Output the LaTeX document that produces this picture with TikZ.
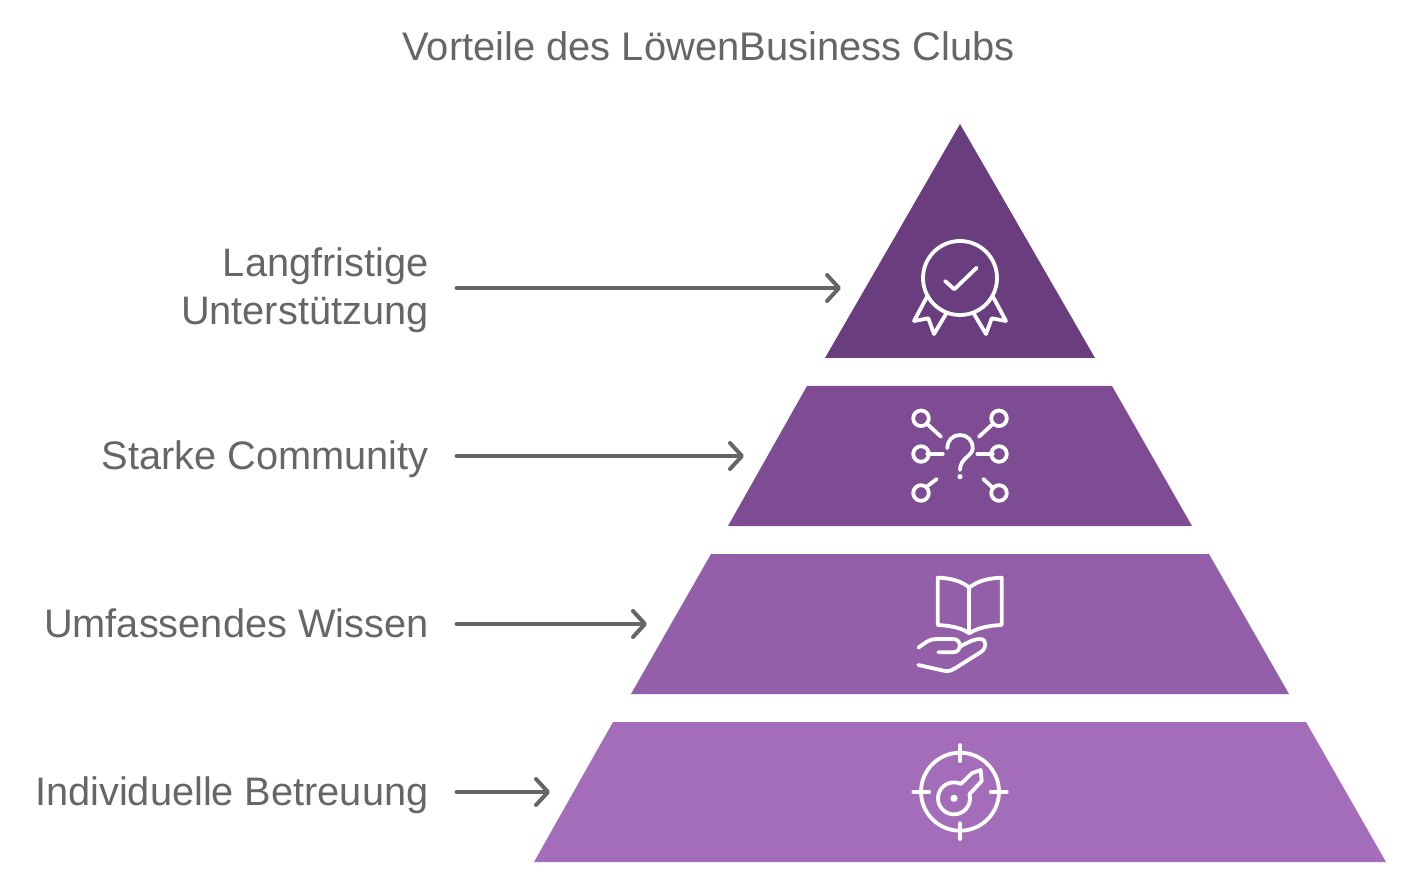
\documentclass[tikz,border=0pt]{standalone}
\usepackage{fontspec}
\setmainfont{Liberation Sans}
\usetikzlibrary{arrows.meta}
\definecolor{txt}{HTML}{666666}
\definecolor{la}{HTML}{6A3D7F}
\definecolor{lb}{HTML}{7E4C92}
\definecolor{lc}{HTML}{925FA8}
\definecolor{ld}{HTML}{A36DBA}
\tikzset{
  lab/.style={anchor=base east,inner sep=0pt,outer sep=0pt,text=txt,align=right,font=\fontsize{39.75}{47.6}\selectfont},
  ttl/.style={anchor=base,inner sep=0pt,outer sep=0pt,text=txt,font=\fontsize{39.9}{48}\selectfont},
  conn/.style={draw=txt,line width=4pt,line cap=round,shorten <=28pt,-{Straight Barb[length=12pt,width=26pt,round,line width=4pt]}},
  ico/.style={draw=white,line width=3.8pt,line cap=round,line join=round,fill=none},
  dotw/.style={fill=white,draw=none}
}
\begin{document}
\begin{tikzpicture}[x=1pt,y=-1pt]
\useasboundingbox (0,0) rectangle (1416,890);
% layers
\fill[la] (960,124) -- (1095,358) -- (825,358) -- cycle;
\fill[lb] (807,386) -- (1112,386) -- (1192,526) -- (728,526) -- cycle;
\fill[lc] (711,554) -- (1209,554) -- (1289,694) -- (631,694) -- cycle;
\fill[ld] (613,722) -- (1306,722) -- (1386,862) -- (534,862) -- cycle;
% texts
\node[ttl] (title) at (708.5,61) {Vorteile des LöwenBusiness Clubs};
\node[lab] (l1) at (428.5,324.3) {Langfristige\\Unterstützung};
\node[lab] (l2) at (428.5,469.5) {Starke Community};
\node[lab] (l3) at (428.5,637.5) {Umfassendes Wissen};
\node[lab] (l4) at (428.5,805.5) {Individuelle Betreuung};
% connectors
\coordinate (t1) at (841,288);
\coordinate (t2) at (744,456);
\coordinate (t3) at (647,624);
\coordinate (t4) at (550,792);
\draw[conn] (l1.east |- t1) -- (t1);
\draw[conn] (l2.east |- t2) -- (t2);
\draw[conn] (l3.east |- t3) -- (t3);
\draw[conn] (l4.east |- t4) -- (t4);
% icon 1: rosette
\draw[ico] (960,278) circle[radius=37];
\draw[ico] (945,281) -- (954.3,289.3) -- (976.7,267.7);
\draw[ico] (926.7,297.3) -- (914,321) -- (928.3,318.3) -- (934,334) -- (946,314);
\draw[ico] (993.3,297.3) -- (1006,321) -- (991.7,318.3) -- (986,334) -- (974,314);
% icon 2: question network
\foreach \cx/\cy in {921/418.3,999/418.3,921/454,999/454,921/493,999/493}
  \draw[ico] (\cx,\cy) circle[radius=7.8];
\draw[ico] (928.3,425) -- (941,436.7);
\draw[ico] (991.7,425) -- (979,436.7);
\draw[ico] (927.3,454) -- (942.7,454);
\draw[ico] (977.3,454) -- (992.7,454);
\draw[ico] (926.7,486.7) -- (936.7,479);
\draw[ico] (983.3,479) -- (993,488);
\draw[ico] (947.3,448.3) .. controls (947.3,440) and (953,435) .. (960,435)
  .. controls (967,435) and (972.7,440) .. (972.7,448.3)
  .. controls (972.7,456) and (960,458) .. (960,470);
\fill[dotw] (960,476.7) circle[radius=2.6];
% icon 3: book and hand
\draw[ico] (969.3,587.7) .. controls (962,581) and (950,578) .. (937.7,577.7) -- (937.7,625)
  .. controls (950,625.5) and (962,628) .. (969.3,633.3)
  .. controls (977,628) and (989,625.5) .. (1001.7,625) -- (1001.7,577.7)
  .. controls (989,578) and (977,581) .. (969.3,587.7) -- cycle;
\draw[ico] (969.3,587.7) -- (969.3,633.3);
\draw[ico] (918.3,665) -- (945,671) .. controls (950,671.5) and (952,670) .. (955,668.3)
  -- (981,652) .. controls (987,648) and (987,639) .. (980,639)
  .. controls (975,639) and (970,641) .. (960,646.7);
\draw[ico] (938.3,652.3) -- (953,652.3) .. controls (962,652.3) and (962,639) .. (953.3,639)
  -- (936,639) .. controls (929,639) and (925,643) .. (918.3,647.7);
% icon 4: target key
\draw[ico] (960,791.7) circle[radius=39];
\draw[ico] (960,745) -- (960,761);
\draw[ico] (960,823.3) -- (960,839);
\draw[ico] (913.3,791.7) -- (929.3,791.7);
\draw[ico] (990.7,791.7) -- (1006.7,791.7);
\draw[ico] (961,783.9) -- (971.7,773.3) -- (980.7,770) -- (981.7,781) -- (969.45,794.2)
  arc[start angle=-15,end angle=296,radius=16];
\fill[dotw] (954,798.3) circle[radius=3.6];
\end{tikzpicture}
\end{document}
